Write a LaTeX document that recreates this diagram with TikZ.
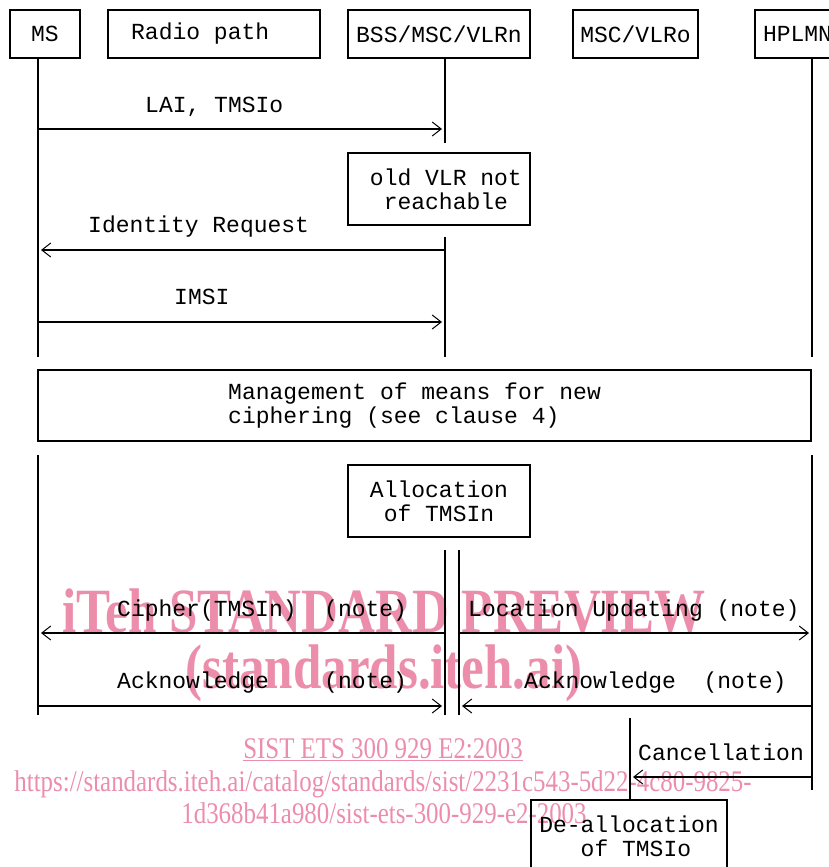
\documentclass[tikz,border=0pt]{standalone}
\usepackage{fontspec}
\setmainfont{Liberation Serif}
\setmonofont{Liberation Mono}
\newfontfamily\stampfont[FakeStretch=0.81]{Liberation Serif}
\newfontfamily\stampurlfont[FakeStretch=0.83]{Liberation Serif}
\usetikzlibrary{arrows.meta,positioning,calc}
\definecolor{Stamp}{HTML}{EB8DAB}
\newcommand{\chartfont}{\fontsize{23}{24}\selectfont\ttfamily}
\tikzset{
  partbox/.style={rectangle, draw, line width=1.5pt, minimum height=48pt, inner sep=0pt, font=\chartfont},
  notebox/.style={rectangle, draw, line width=1.5pt, minimum width=182pt, minimum height=72pt, inner sep=0pt, font=\chartfont, align=center},
  lifeline/.style={line width=1.4pt},
  sigline/.style={line width=2.4pt, -{Straight Barb[length=9pt,width=14pt,line width=1pt]}, shorten >=3pt},
  siglabel/.style={font=\chartfont, anchor=base west, inner sep=0pt},
  stampbig/.style={text=Stamp, font=\fontsize{63}{63}\selectfont\stampfont\bfseries, inner sep=0pt, anchor=base},
  stampsmall/.style={text=Stamp, font=\fontsize{30}{30}\selectfont\stampurlfont, inner sep=0pt, anchor=base},
}

\begin{document}
\begin{tikzpicture}[x=1pt, y=-1pt]
    \useasboundingbox (0,0) rectangle (829,867);
    \clip (0,0) rectangle (829,867);

    \node[stampbig] (mark1) at (384,632) {iTeh STANDARD PREVIEW};
    \node[stampbig] (mark2) at (384,688) {(standards.iteh.ai)};
    \node[stampsmall] (mark3) at (383,758) {\underline{SIST ETS 300 929 E2:2003}};
    \node[stampsmall] (mark4) at (383,791) {https://standards.iteh.ai/catalog/standards/sist/2231c543-5d22-4c80-9825-};
    \node[stampsmall] (mark5) at (384,823) {1d368b41a980/sist-ets-300-929-e2-2003};

    \node[partbox, minimum width=70pt] (ms) at (45,34) {MS};
    \node[partbox, minimum width=212pt] (radio) at (214,34) {Radio path\phantom{xx}};
    \node[partbox, minimum width=182pt] (bssn) at (439,34) {BSS/MSC/VLRn};
    \node[partbox, minimum width=125pt] (vlro) at (635.5,34) {MSC/VLRo};
    \node[partbox, minimum width=120pt, text width=104pt, align=left] (hplmn) at (815,34) {HPLMN};

    \coordinate (msLine) at (38,58);
    \coordinate (bssLine) at (445,58);
    \coordinate (bssSide) at (459,550);
    \coordinate (vlroLine) at (630,718);
    \coordinate (hpLine) at (812,58);

    \draw[lifeline] (msLine) -- (msLine |- 0,357);
    \draw[lifeline] (msLine |- 0,455) -- (msLine |- 0,715);
    \draw[lifeline] (bssLine) -- (bssLine |- 0,143);
    \draw[lifeline] (bssLine |- 0,237) -- (bssLine |- 0,357);
    \draw[lifeline] (bssLine |- 0,550) -- (bssLine |- 0,715);
    \draw[lifeline] (bssSide) -- (bssSide |- 0,715);
    \draw[lifeline] (hpLine) -- (hpLine |- 0,357);
    \draw[lifeline] (hpLine |- 0,455) -- (hpLine |- 0,790);
    \draw[lifeline] (vlroLine) -- (vlroLine |- 0,800);

    \node[siglabel] (lai) at (145,112) {LAI, TMSIo};
    \draw[sigline] (msLine |- 0,129) -- (bssLine |- 0,129);

    \node[notebox] (oldvlr) at (439,189) {~old VLR not\\~reachable};

    \node[siglabel] (idreq) at (88,232) {Identity Request};
    \draw[sigline] (bssLine |- 0,250) -- (msLine |- 0,250);

    \node[siglabel] (imsi) at (174,304) {IMSI};
    \draw[sigline] (msLine |- 0,322) -- (bssLine |- 0,322);

    \node[notebox, minimum width=773pt, minimum height=71pt] (means) at (424.5,405.5) {};
    \node[font=\chartfont, align=center, anchor=west, inner sep=0pt] (meanstext) at (228,405.5) {Management of means for new\\ciphering (see clause 4)\phantom{xxx}};

    \node[notebox] (alloc) at (439,501) {Allocation\\of TMSIn};

    \node[siglabel] (ciph) at (117,616) {Cipher(TMSIn)~~(note)};
    \draw[sigline] (bssLine |- 0,633) -- (msLine |- 0,633);
    \node[siglabel] (locupd) at (468,616) {Location Updating (note)};
    \draw[sigline] (bssSide |- 0,633) -- (hpLine |- 0,633);

    \node[siglabel] (ackl) at (117,688) {Acknowledge~~~~(note)};
    \draw[sigline] (msLine |- 0,706) -- (bssLine |- 0,706);
    \node[siglabel] (ackr) at (524,688) {Acknowledge~~(note)};
    \draw[sigline] (hpLine |- 0,706) -- (bssSide |- 0,706);

    \node[siglabel] (cancel) at (638,760) {Cancellation};
    \draw[sigline] (hpLine |- 0,777) -- (vlroLine |- 0,777);

    \node[notebox, minimum width=196pt] (dealloc) at (629,836) {De-allocation\\~of TMSIo};
\end{tikzpicture}
\end{document}
